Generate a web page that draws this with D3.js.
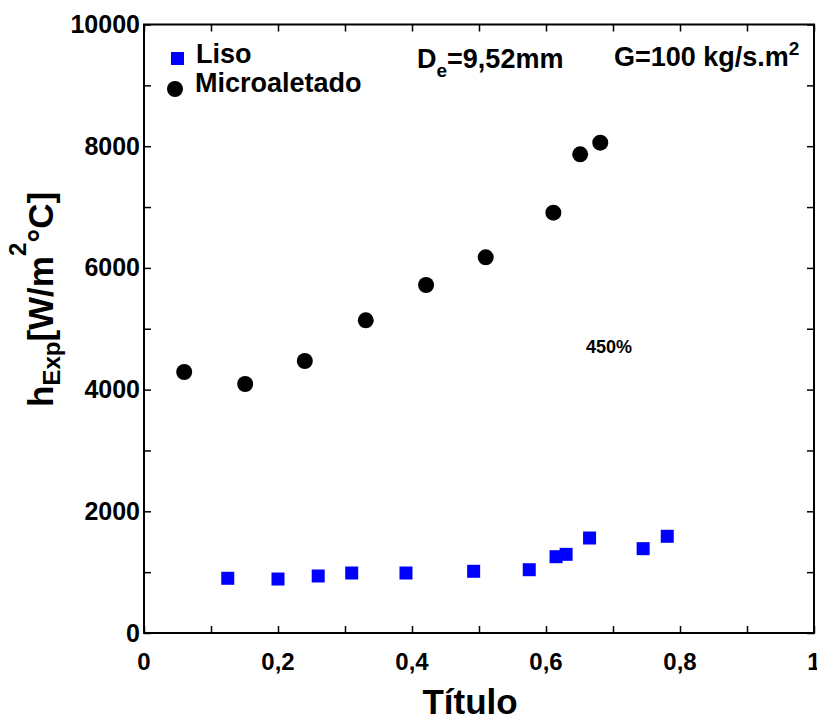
<!DOCTYPE html>
<html>
<head>
<meta charset="utf-8">
<script src="https://cdn.jsdelivr.net/npm/d3@7"></script>
<style>
  html, body { margin: 0; padding: 0; background: #fff; }
  svg { display: block; }
  text { font-family: "Liberation Sans", Arial, sans-serif; font-weight: bold; fill: #000; }
</style>
</head>
<body>
<svg id="chart" width="817" height="717"></svg>
<script>
// Vapour quality (x) and experimental heat transfer coefficient (W/m²°C)
const lisoX = [0.125, 0.200, 0.260, 0.310, 0.391, 0.492, 0.575, 0.615, 0.630, 0.665, 0.745, 0.781];
const lisoH = [899, 887, 937, 986, 986, 1014, 1040, 1254, 1293, 1561, 1386, 1589];

const microX = [0.060, 0.151, 0.240, 0.331, 0.421, 0.510, 0.611, 0.651, 0.681];
const microH = [4289, 4092, 4470, 5139, 5719, 6174, 6907, 7867, 8058];

const xTicks = [0, 0.1, 0.2, 0.3, 0.4, 0.5, 0.6, 0.7, 0.8, 0.9, 1];
const xTickLabels = ["0", "", "0,2", "", "0,4", "", "0,6", "", "0,8", "", "1"];
const yTicks = [0, 1000, 2000, 3000, 4000, 5000, 6000, 7000, 8000, 9000, 10000];
const yTickLabels = ["0", "", "2000", "", "4000", "", "6000", "", "8000", "", "10000"];

const seriesNames = ["Liso", "Microaletado"];
const seriesColors = ["#0000ff", "#000000"];

const svg = d3.select("#chart");
const plotLeft = 144, plotRight = 814, plotTop = 24.5, plotBottom = 633;

const x = d3.scaleLinear().domain([0, 1]).range([plotLeft, plotRight]);
const y = d3.scaleLinear().domain([0, 10000]).range([plotBottom, plotTop]);

const tickLen = 7;

// Inward ticks on all four sides
function styleAxis(g) {
  g.select(".domain").remove();
  g.selectAll(".tick line").attr("stroke", "#000").attr("stroke-width", 1.5);
  g.selectAll(".tick text").remove();
}
svg.append("g").attr("transform", `translate(0,${plotBottom})`)
  .call(d3.axisTop(x).tickValues(xTicks).tickSize(tickLen)).call(styleAxis);
svg.append("g").attr("transform", `translate(0,${plotTop})`)
  .call(d3.axisBottom(x).tickValues(xTicks).tickSize(tickLen)).call(styleAxis);
svg.append("g").attr("transform", `translate(${plotLeft},0)`)
  .call(d3.axisRight(y).tickValues(yTicks).tickSize(tickLen)).call(styleAxis);
svg.append("g").attr("transform", `translate(${plotRight},0)`)
  .call(d3.axisLeft(y).tickValues(yTicks).tickSize(tickLen)).call(styleAxis);

// Frame
svg.append("rect")
  .attr("x", plotLeft).attr("y", plotTop)
  .attr("width", plotRight - plotLeft).attr("height", plotBottom - plotTop)
  .attr("fill", "none").attr("stroke", "#000").attr("stroke-width", 2);

// Tick labels
svg.append("g").selectAll("text").data(xTicks).join("text")
  .attr("x", d => x(d)).attr("y", 670)
  .attr("text-anchor", "middle").attr("font-size", 24)
  .text((d, i) => xTickLabels[i]);

svg.append("g").selectAll("text").data(yTicks).join("text")
  .attr("x", plotLeft - 4).attr("y", d => y(d) + 8.5)
  .attr("text-anchor", "end").attr("font-size", 25)
  .text((d, i) => yTickLabels[i]);

// Axis titles
svg.append("text")
  .attr("x", 470).attr("y", 714)
  .attr("text-anchor", "middle").attr("font-size", 35)
  .text("Título");

const yTitle = svg.append("text")
  .attr("transform", "translate(53,407) rotate(-90)")
  .attr("font-size", 35);
yTitle.append("tspan").text("h");
yTitle.append("tspan").attr("font-size", 24).attr("dy", 7).text("Exp");
yTitle.append("tspan").attr("dy", -7).text("[W/m");
yTitle.append("tspan").attr("font-size", 24).attr("dy", -27).text("2");
yTitle.append("tspan").attr("dy", 27).text("°C]");

// Markers
const sq = 13;
svg.append("g").selectAll("rect").data(lisoX.map((d, i) => [d, lisoH[i]])).join("rect")
  .attr("x", d => x(d[0]) - sq / 2).attr("y", d => y(d[1]) - sq / 2)
  .attr("width", sq).attr("height", sq)
  .attr("fill", seriesColors[0]);

svg.append("g").selectAll("circle").data(microX.map((d, i) => [d, microH[i]])).join("circle")
  .attr("cx", d => x(d[0])).attr("cy", d => y(d[1]))
  .attr("r", 8).attr("fill", seriesColors[1]);

// Legend
svg.append("rect").attr("x", 171).attr("y", 52).attr("width", sq).attr("height", sq)
  .attr("fill", seriesColors[0]);
svg.append("circle").attr("cx", 175).attr("cy", 89).attr("r", 8).attr("fill", seriesColors[1]);
svg.append("text").attr("x", 196).attr("y", 63).attr("font-size", 27).text(seriesNames[0]);
svg.append("text").attr("x", 195).attr("y", 92).attr("font-size", 27).text(seriesNames[1]);

// Test-condition annotations
const de = svg.append("text").attr("x", 417).attr("y", 68).attr("font-size", 27);
de.append("tspan").text("D");
de.append("tspan").attr("font-size", 19).attr("dy", 9).text("e");
de.append("tspan").attr("dy", -9).text("=9,52mm");

const gm = svg.append("text").attr("x", 614).attr("y", 66).attr("font-size", 27);
gm.append("tspan").text("G=100 kg/s.m");
gm.append("tspan").attr("font-size", 19).attr("dy", -11).text("2");

svg.append("text").attr("x", 586).attr("y", 353).attr("font-size", 18).text("450%");
</script>
</body>
</html>
